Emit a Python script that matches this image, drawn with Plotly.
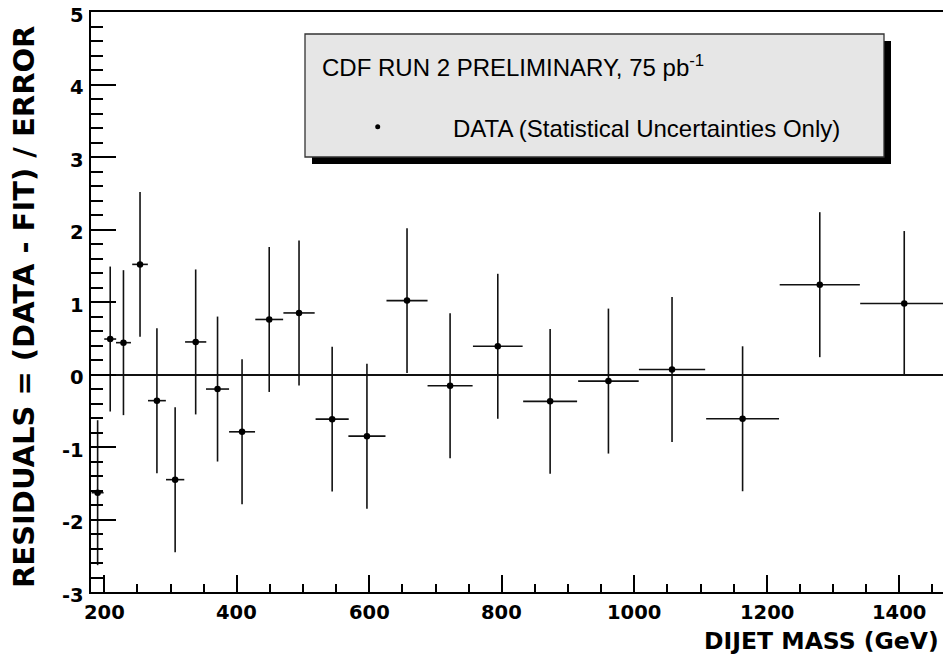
import plotly.graph_objects as go

# ---- data ----
mass = [190, 209, 229, 254, 279.5, 307, 338, 371, 408, 449, 494, 544, 596.5,
        657, 722, 794, 873, 961, 1057, 1163.5, 1280, 1407.5]
bin_half = [9, 9, 11.3, 11.8, 13.5, 13.8, 16, 17.4, 19.6, 21, 23.6, 25, 28,
            31, 34, 37.5, 40.7, 45.7, 50, 55, 60.5, 66.5]
residual = [-1.63, 0.49, 0.44, 1.52, -0.36, -1.45, 0.45, -0.2, -0.79, 0.76, 0.85,
            -0.615, -0.85, 1.02, -0.155, 0.39, -0.37, -0.09, 0.07, -0.61, 1.24, 0.98]
res_err = [1.0] * len(residual)

x_ticks = [200, 400, 600, 800, 1000, 1200, 1400]
y_ticks = [-3, -2, -1, 0, 1, 2, 3, 4, 5]

W, H = 943, 655
L, R, T, B = 91, 0, 12, 63
pw, ph = W - L - R, H - T - B


def px(xp):
    return (xp - L) / pw


def py(yp):
    return (H - B - yp) / ph


fig = go.Figure()
fig.add_trace(go.Scatter(
    x=mass, y=residual, mode="markers",
    marker=dict(color="black", size=6.5),
    error_x=dict(type="data", array=bin_half, color="#111111", thickness=1.6, width=0),
    error_y=dict(type="data", array=res_err, color="#111111", thickness=1.6, width=0),
    showlegend=False,
))

fig.update_layout(
    width=W, height=H,
    margin=dict(l=L, r=R, t=T, b=B, pad=0),
    paper_bgcolor="white", plot_bgcolor="white",
    font=dict(family="Liberation Sans, Arial, sans-serif", color="black", size=20),
)
fig.update_xaxes(
    range=[180, 1466], tickmode="array", tickvals=x_ticks, showticklabels=False,
    ticks="inside", ticklen=17, tickwidth=1.5, tickcolor="black",
    showline=True, linecolor="black", linewidth=1.8, mirror=True,
    showgrid=False, zeroline=False,
    minor=dict(ticks="inside", ticklen=8, tickwidth=1.5, tickcolor="black",
               dtick=50, tick0=0, showgrid=False),
)
fig.update_yaxes(
    range=[-3, 5.002], tickmode="array", tickvals=y_ticks, showticklabels=False,
    ticks="inside", ticklen=25, tickwidth=1.5, tickcolor="black",
    showline=True, linecolor="black", linewidth=1.8, mirror=False,
    showgrid=False, zeroline=True, zerolinecolor="#111111", zerolinewidth=1.6,
    minor=dict(ticks="inside", ticklen=12, tickwidth=1.5, tickcolor="black",
               dtick=0.2, tick0=0, showgrid=False),
)

# tick labels placed through the axis scales
tick_font = dict(family="DejaVu Sans, sans-serif", size=19.5, color="black")
for v in x_ticks:
    fig.add_annotation(xref="x", yref="paper", x=v, y=py(612),
                       xanchor="center", yanchor="middle", showarrow=False,
                       text="<b>%d</b>" % v, font=tick_font)
for v in y_ticks:
    fig.add_annotation(xref="paper", yref="y", x=px(86), y=v, yshift=-3,
                       xanchor="right", yanchor="middle", showarrow=False,
                       text="<b>%d</b>" % v, font=tick_font)

# legend box with shadow
fig.add_shape(type="rect", xref="paper", yref="paper",
              x0=px(312), x1=px(891), y0=py(164), y1=py(41),
              fillcolor="black", line=dict(width=0), layer="above")
fig.add_shape(type="rect", xref="paper", yref="paper",
              x0=px(305), x1=px(884), y0=py(157), y1=py(34),
              fillcolor="#e6e6e6", line=dict(color="#333333", width=1.3), layer="above")
fig.add_shape(type="circle", xref="paper", yref="paper",
              x0=px(375.2), x1=px(380.2), y0=py(129.2), y1=py(124.2),
              fillcolor="black", line=dict(width=0), layer="above")

fig.add_annotation(xref="paper", yref="paper", x=px(320), y=py(66),
                   xanchor="left", yanchor="middle", showarrow=False,
                   text="CDF RUN 2 PRELIMINARY, 75 pb<sup>-1</sup>",
                   font=dict(family="Liberation Sans, Arial, sans-serif", size=24, color="black"))
fig.add_annotation(xref="paper", yref="paper", x=px(451), y=py(128.5),
                   xanchor="left", yanchor="middle", showarrow=False,
                   text="DATA (Statistical Uncertainties Only)",
                   font=dict(family="Liberation Sans, Arial, sans-serif", size=24, color="black"))

# axis titles
fig.add_annotation(xref="paper", yref="paper", x=px(941), y=py(641),
                   xanchor="right", yanchor="middle", showarrow=False,
                   text="<b>DIJET MASS (GeV)</b>",
                   font=dict(family="DejaVu Sans, sans-serif", size=23.5, color="black"))
fig.add_annotation(xref="paper", yref="paper", x=px(24), y=py(307),
                   xanchor="center", yanchor="middle", showarrow=False, textangle=-90,
                   text="<b>RESIDUALS = (DATA - FIT) / ERROR</b>",
                   font=dict(family="DejaVu Sans, sans-serif", size=29, color="black"))

fig.write_html("out.html")
